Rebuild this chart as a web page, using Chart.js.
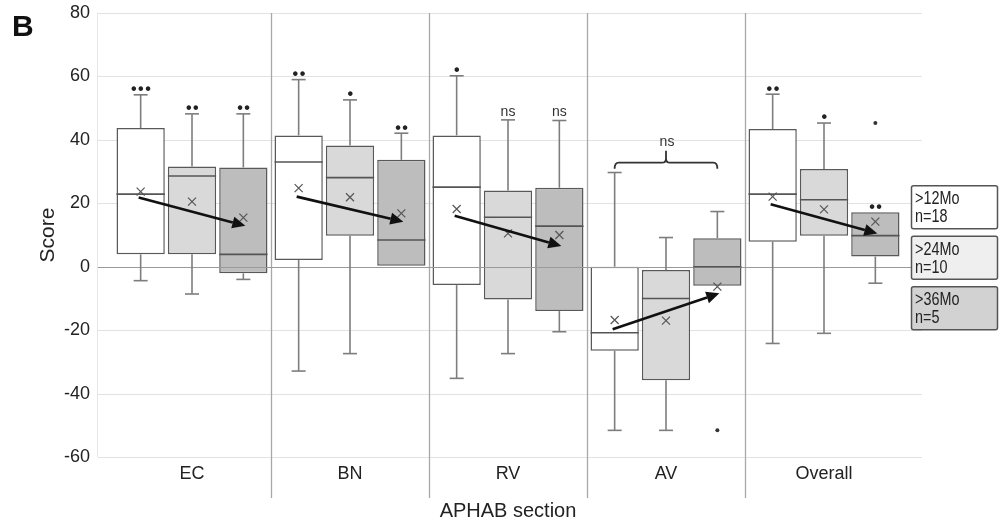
<!DOCTYPE html>
<html>
<head>
<meta charset="utf-8">
<script src="https://cdn.jsdelivr.net/npm/chart.js@4.4.0/dist/chart.umd.min.js"></script>
<style>
  body { margin: 0; background: #fff; }
  #wrap { position: relative; width: 1002px; height: 528px; }
  #panel { position: absolute; left: 12px; top: 9px; font: bold 30px "Liberation Sans", Arial, sans-serif; color: #111; }
</style>
</head>
<body>
<div id="wrap">
  <canvas id="chart" width="1002" height="528"></canvas>
  <div id="panel">B</div>
</div>
<script>
const sections = ['EC', 'BN', 'RV', 'AV', 'Overall'];
const groups = ['>12Mo', '>24Mo', '>36Mo'];
const groupN = ['n=18', 'n=10', 'n=5'];
const yMin = -60, yMax = 80, yStep = 20;

// >12Mo
const q1_12 = [3.9, 2.1, -5.8, -26.5, 7.9];
const q3_12 = [43.7, 41.4, 41.4, 0, 43.4];
const med_12 = [22.9, 33.0, 25.1, -20.8, 22.9];
const mean_12 = [23.7, 24.8, 18.2, -16.8, 22.1];
const min_12 = [-4.4, -32.9, -35.2, -51.6, -24.2];
const max_12 = [54.2, 59.0, 60.2, 29.7, 54.4];
const sig_12 = ['•••', '••', '•', '', '••'];

// >24Mo
const q1_24 = [3.9, 9.8, -10.3, -35.8, 9.8];
const q3_24 = [31.6, 38.2, 24.0, -1.0, 30.8];
const med_24 = [28.6, 28.1, 15.6, -10.0, 21.1];
const mean_24 = [20.5, 21.9, 10.5, -17.0, 18.1];
const min_24 = [-8.6, -27.4, -27.4, -51.6, -21.0];
const max_24 = [48.2, 52.6, 46.3, 9.2, 45.3];
const sig_24 = ['••', '•', 'ns', '', '•'];

// >36Mo
const q1_36 = [-2.1, 0.3, -14.0, -6.0, 3.2];
const q3_36 = [31.3, 33.7, 24.9, 9.0, 17.2];
const med_36 = [3.9, 8.4, 12.8, 0, 9.8];
const mean_36 = [15.5, 16.8, 10.0, -6.3, 14.2];
const min_36 = [-4.0, 0.3, -20.5, -6.0, -5.2];
const max_36 = [48.2, 42.1, 46.1, 17.4, 17.2];
const sig_36 = ['••', '••', 'ns', '', '••'];
const out_36 = [[], [], [], [-51.6], [45.3]];

// trend arrows (>12Mo -> >36Mo) per section
const trendFrom = [21.8, 22.1, 16.1, -19.7, 19.7];
const trendTo = [12.9, 14.2, 6.5, -8.4, 10.5];

// AV bracket
const bracketSection = 3;
const bracketValue = 32.8;
const bracketText = 'ns';

const Q1 = [q1_12, q1_24, q1_36];
const Q3 = [q3_12, q3_24, q3_36];
const MED = [med_12, med_24, med_36];
const MEAN = [mean_12, mean_24, mean_36];
const MIN = [min_12, min_24, min_36];
const MAX = [max_12, max_24, max_36];
const SIG = [sig_12, sig_24, sig_36];
const OUT = [sections.map(() => []), sections.map(() => []), out_36];

const boxFill = ['#ffffff', '#d9d9d9', '#bdbdbd'];
const legendFill = ['#ffffff', '#efefef', '#d2d2d2'];
const FONT = '"Liberation Sans", Arial, sans-serif';

const boxParts = {
  id: 'boxParts',
  beforeDatasetsDraw(chart) {
    const { ctx, chartArea: a, scales: { x, y } } = chart;
    ctx.save();
    ctx.lineWidth = 1;
    y.ticks.forEach(t => {
      if (t.value === 0) return;
      const py = Math.round(y.getPixelForValue(t.value)) + 0.5;
      ctx.strokeStyle = '#e2e2e2';
      ctx.beginPath(); ctx.moveTo(a.left - 15, py); ctx.lineTo(a.right + 19, py); ctx.stroke();
    });
    ctx.strokeStyle = '#e6e6e6';
    ctx.beginPath(); ctx.moveTo(a.left - 15.5, a.top); ctx.lineTo(a.left - 15.5, a.bottom); ctx.stroke();
    ctx.strokeStyle = '#a8a8a8';
    ctx.lineWidth = 1.3;
    for (let i = 0; i < sections.length - 1; i++) {
      const px = Math.round((x.getPixelForValue(i) + x.getPixelForValue(i + 1)) / 2) + 0.5;
      ctx.beginPath(); ctx.moveTo(px, a.top); ctx.lineTo(px, a.bottom + 41); ctx.stroke();
    }
    ctx.restore();
  },
  afterDatasetsDraw(chart) {
    const { ctx, chartArea: a, scales: { y } } = chart;
    ctx.save();
    // zero line over boxes
    const y0 = Math.round(y.getPixelForValue(0)) + 0.5;
    ctx.strokeStyle = '#9a9a9a'; ctx.lineWidth = 1.2;
    ctx.beginPath(); ctx.moveTo(a.left - 15, y0); ctx.lineTo(a.right + 8, y0); ctx.stroke();

    const centers = [];
    chart.data.datasets.forEach((ds, g) => {
      const meta = chart.getDatasetMeta(g);
      centers[g] = [];
      meta.data.forEach((bar, i) => {
        const cx = bar.x, hw = bar.width / 2;
        centers[g][i] = cx;
        const py = v => y.getPixelForValue(v);
        // whiskers
        ctx.strokeStyle = '#7d7d7d'; ctx.lineWidth = 1.6;
        [[Q3[g][i], MAX[g][i]], [Q1[g][i], MIN[g][i]]].forEach(([from, to]) => {
          if (Math.abs(from - to) < 0.5) return;
          ctx.beginPath(); ctx.moveTo(cx, py(from)); ctx.lineTo(cx, py(to)); ctx.stroke();
          ctx.beginPath(); ctx.moveTo(cx - 7, py(to)); ctx.lineTo(cx + 7, py(to)); ctx.stroke();
        });
        // median
        ctx.strokeStyle = '#555'; ctx.lineWidth = 1.6;
        ctx.beginPath(); ctx.moveTo(cx - hw, py(MED[g][i])); ctx.lineTo(cx + hw, py(MED[g][i])); ctx.stroke();
        // mean
        const my = py(MEAN[g][i]);
        ctx.strokeStyle = '#555'; ctx.lineWidth = 1.2;
        ctx.beginPath();
        ctx.moveTo(cx - 4, my - 4); ctx.lineTo(cx + 4, my + 4);
        ctx.moveTo(cx + 4, my - 4); ctx.lineTo(cx - 4, my + 4);
        ctx.stroke();
        // outliers
        ctx.fillStyle = '#333';
        OUT[g][i].forEach(v => { ctx.beginPath(); ctx.arc(cx, py(v), 2, 0, Math.PI * 2); ctx.fill(); });
        // significance
        const s = SIG[g][i];
        if (s) {
          const top = py(MAX[g][i]);
          ctx.textAlign = 'center'; ctx.textBaseline = 'middle';
          if (s === 'ns') {
            ctx.fillStyle = '#333'; ctx.font = '14px ' + FONT;
            ctx.fillText(s, cx, top - 8);
          } else {
            ctx.fillStyle = '#222'; ctx.font = 'bold 16px ' + FONT;
            ctx.letterSpacing = '1.5px';
            ctx.fillText(s, cx + 1, top - 5);
            ctx.letterSpacing = '0px';
          }
        }
      });
    });

    // trend arrows
    ctx.strokeStyle = '#111'; ctx.fillStyle = '#111'; ctx.lineWidth = 2.6;
    sections.forEach((s, i) => {
      const x1 = centers[0][i] - 2, y1 = y.getPixelForValue(trendFrom[i]);
      const x2 = centers[2][i] + 2, y2 = y.getPixelForValue(trendTo[i]);
      const ang = Math.atan2(y2 - y1, x2 - x1);
      const L = 13, W = 6;
      const bx = x2 - L * Math.cos(ang), by = y2 - L * Math.sin(ang);
      ctx.beginPath(); ctx.moveTo(x1, y1); ctx.lineTo(bx, by); ctx.stroke();
      ctx.beginPath();
      ctx.moveTo(x2, y2);
      ctx.lineTo(bx + W * Math.sin(ang), by - W * Math.cos(ang));
      ctx.lineTo(bx - W * Math.sin(ang), by + W * Math.cos(ang));
      ctx.closePath(); ctx.fill();
    });

    // bracket over AV
    const bl = centers[0][bracketSection], br = centers[2][bracketSection];
    const byy = y.getPixelForValue(bracketValue), mid = (bl + br) / 2, r = 4;
    ctx.strokeStyle = '#333'; ctx.lineWidth = 1.8;
    ctx.beginPath();
    ctx.moveTo(bl, byy + 6);
    ctx.quadraticCurveTo(bl, byy, bl + r, byy);
    ctx.lineTo(mid - r, byy);
    ctx.quadraticCurveTo(mid, byy, mid, byy - r);
    ctx.lineTo(mid, byy - 12);
    ctx.moveTo(mid, byy - r);
    ctx.quadraticCurveTo(mid, byy, mid + r, byy);
    ctx.lineTo(br - r, byy);
    ctx.quadraticCurveTo(br, byy, br, byy + 6);
    ctx.stroke();
    ctx.fillStyle = '#333'; ctx.font = '14px ' + FONT;
    ctx.textAlign = 'center'; ctx.textBaseline = 'middle';
    ctx.fillText(bracketText, mid + 1, byy - 21);

    // legend boxes (text slightly condensed like the original)
    const lx = a.right + 8, lw = 86, lh = 43;
    const ly0 = y.getPixelForValue(20) - 18;
    groups.forEach((g, k) => {
      const top = ly0 + k * 50.5;
      ctx.fillStyle = legendFill[k]; ctx.strokeStyle = '#555'; ctx.lineWidth = 1.5;
      ctx.beginPath(); ctx.roundRect(lx + 0.5, top + 0.5, lw, lh, 2); ctx.fill(); ctx.stroke();
      ctx.fillStyle = '#222'; ctx.font = '18px ' + FONT;
      ctx.textAlign = 'left'; ctx.textBaseline = 'alphabetic';
      [[g, 19], [groupN[k], 37]].forEach(([txt, dy]) => {
        ctx.save();
        ctx.translate(lx + 4, top + dy);
        ctx.scale(0.8, 1);
        ctx.fillText(txt, 0, 0);
        ctx.restore();
      });
    });
    ctx.restore();
  }
};

new Chart(document.getElementById('chart'), {
  type: 'bar',
  data: {
    labels: sections,
    datasets: groups.map((g, k) => ({
      label: g,
      data: sections.map((s, i) => [Q1[k][i], Q3[k][i]]),
      backgroundColor: boxFill[k],
      borderColor: '#595959',
      borderWidth: 1.5,
      borderSkipped: false,
      categoryPercentage: 0.975,
      barPercentage: 0.94
    }))
  },
  options: {
    responsive: false,
    animation: false,
    layout: { padding: { left: 0, right: 99, top: 13, bottom: 0 } },
    plugins: { legend: { display: false }, tooltip: { enabled: false } },
    scales: {
      x: {
        grid: { display: false, drawTicks: false },
        border: { display: false },
        ticks: { color: '#222', font: { size: 18, family: FONT }, padding: 6 },
        title: { display: true, text: 'APHAB section', color: '#222', font: { size: 20, family: FONT }, padding: { top: 0, bottom: 5 } },
        afterFit: s => { s.height = 71; }
      },
      y: {
        min: yMin, max: yMax,
        grid: { display: false, drawTicks: false },
        border: { display: false },
        ticks: { stepSize: yStep, color: '#222', font: { size: 18, family: FONT }, padding: 23 },
        title: { display: true, text: 'Score', color: '#222', font: { size: 21, family: FONT }, padding: { top: 36, bottom: 0 } },
        afterFit: s => { s.width = 113; s.paddingTop = 0; s.paddingBottom = 0; }
      }
    }
  },
  plugins: [boxParts]
});
</script>
</body>
</html>
